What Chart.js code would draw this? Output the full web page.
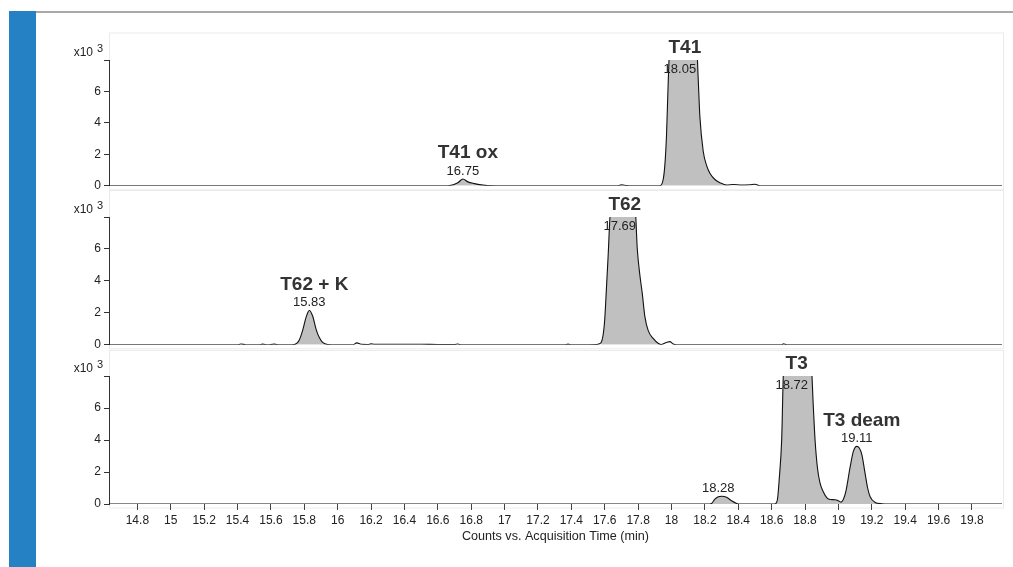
<!DOCTYPE html>
<html>
<head>
<meta charset="utf-8">
<script src="https://cdn.jsdelivr.net/npm/chart.js@4.4.1/dist/chart.umd.min.js"></script>
<style>
html, body { margin: 0; padding: 0; background: #fff; }
#page { position: relative; width: 1013px; height: 567px; overflow: hidden; background: #fff; }
#topline { position: absolute; left: 22px; top: 11px; width: 991px; height: 2px; background: #a8a8a8; }
#bluebar { position: absolute; left: 9px; top: 11px; width: 27px; height: 556px; background: #2680c4; }
canvas { position: absolute; left: 0; }
</style>
</head>
<body>
<div id="page">
    <div id="topline"></div>
    <div id="bluebar"></div>
    <canvas id="c1" width="1013" height="171" style="top:25px"></canvas>
    <canvas id="c2" width="1013" height="165" style="top:190px"></canvas>
    <canvas id="c3" width="1013" height="217" style="top:350px"></canvas>
</div>
<script>
// axis ranges (minutes / counts x10^3)
const xMin = 14.63;
const xMax = 19.98;
const xTicks = [14.8, 15, 15.2, 15.4, 15.6, 15.8, 16, 16.2, 16.4, 16.6, 16.8, 17, 17.2, 17.4, 17.6, 17.8, 18, 18.2, 18.4, 18.6, 18.8, 19, 19.2, 19.4, 19.6, 19.8];
const yTicks = [0, 2, 4, 6, 8];
const xTitle = 'Counts vs. Acquisition Time (min)';

// top trace - T41
const topTime = [14.63, 16.60, 16.67, 16.72, 16.75, 16.78, 16.82, 16.86, 16.90, 16.95, 17.68, 17.70, 17.73, 17.75, 17.93, 17.95, 17.96, 17.97, 17.98, 17.99, 18.05, 18.15, 18.16, 18.17, 18.19, 18.21, 18.23, 18.26, 18.29, 18.33, 18.37, 18.42, 18.47, 18.50, 18.53, 19.98];
const topCounts = [0, 0, 0.02, 0.2, 0.43, 0.25, 0.14, 0.06, 0.01, 0, 0, 0.06, 0.02, 0, 0, 0.4, 1.3, 3.2, 6.5, 9, 10.5, 9, 6.8, 4.4, 2.2, 1.3, 0.8, 0.4, 0.2, 0.05, 0.08, 0.05, 0.07, 0.1, 0, 0];
const topPeaks = [[16.66, 16.90], [17.93, 18.33]];
const topPeakTimes = [16.75, 18.05];
const topPeakNames = ['T41 ox', 'T41'];

// middle trace - T62
const midTime = [14.63, 15.40, 15.42, 15.45, 15.53, 15.55, 15.58, 15.62, 15.65, 15.74, 15.77, 15.79, 15.81, 15.83, 15.85, 15.87, 15.89, 15.91, 15.94, 16.00, 16.09, 16.115, 16.14, 16.18, 16.20, 16.22, 16.30, 16.50, 16.60, 16.70, 16.72, 16.74, 17.36, 17.38, 17.40, 17.55, 17.575, 17.59, 17.60, 17.61, 17.62, 17.635, 17.70, 17.78, 17.795, 17.81, 17.825, 17.84, 17.86, 17.89, 17.92, 17.94, 17.97, 17.99, 18.01, 18.03, 18.66, 18.67, 18.69, 19.98];
const midCounts = [0, 0, 0.05, 0, 0, 0.04, 0, 0.04, 0, 0.02, 0.3, 0.9, 1.7, 2.15, 1.8, 1.0, 0.45, 0.15, 0.02, 0, 0, 0.12, 0.03, 0.02, 0.06, 0.03, 0.03, 0.03, 0.02, 0.02, 0.05, 0, 0, 0.04, 0, 0.02, 0.1, 0.6, 1.6, 3.5, 5.5, 8.5, 10, 9, 6, 4.4, 3.2, 1.8, 0.9, 0.4, 0.1, 0.02, 0.15, 0.2, 0.05, 0, 0, 0.06, 0, 0];
const midPeaks = [[15.73, 15.95], [17.56, 17.945]];
const midPeakTimes = [15.83, 17.69];
const midPeakNames = ['T62 + K', 'T62'];

// bottom trace - T3
const botTime = [14.63, 18.23, 18.24, 18.26, 18.28, 18.30, 18.33, 18.36, 18.39, 18.40, 18.62, 18.635, 18.645, 18.66, 18.672, 18.75, 18.835, 18.85, 18.86, 18.875, 18.89, 18.91, 18.93, 18.95, 18.98, 19.00, 19.015, 19.03, 19.045, 19.07, 19.09, 19.11, 19.125, 19.14, 19.16, 19.175, 19.19, 19.22, 19.26, 19.30, 19.98];
const botCounts = [0, 0, 0.03, 0.3, 0.45, 0.48, 0.42, 0.2, 0.03, 0, 0, 0.3, 1.5, 4, 8.5, 10, 9, 6, 4, 2.2, 1.3, 0.75, 0.4, 0.28, 0.27, 0.2, 0.12, 0.3, 0.8, 2.3, 3.3, 3.6, 3.5, 3.1, 1.9, 1.0, 0.45, 0.1, 0.02, 0, 0];
const botPeaks = [[18.23, 18.40], [18.62, 19.27]];
const botPeakTimes = [18.28, 18.72, 19.11];
const botPeakNames = ['', 'T3', 'T3 deam'];

const FONT = "'Liberation Sans', Arial, sans-serif";
const yMax = 8;

function makePanel(canvasId, time, counts, peaks, peakTimes, peakNames, padTop, showX) {
    const trace = time.map((t, i) => ({ x: t, y: counts[i] }));

    // gray fill only under the integrated peaks
    const fills = peaks.map(w => ({
        data: trace.filter(p => p.x >= w[0] && p.x <= w[1]),
        borderWidth: 0,
        backgroundColor: '#c0c0c0',
        fill: 'origin',
        pointRadius: 0,
        cubicInterpolationMode: 'monotone'
    }));

    const decorations = {
        id: 'decorations',
        beforeDraw(chart) {
            const { ctx, chartArea } = chart;
            ctx.save();
            ctx.strokeStyle = '#ebebeb';
            ctx.lineWidth = 1;
            const top = Math.max(0.5, chartArea.top - 27);
            ctx.strokeRect(chartArea.left + 0.5, top, chartArea.right - chartArea.left + 1, chartArea.bottom + 4 - top);
            ctx.restore();
        },
        afterDraw(chart) {
            const { ctx, chartArea, scales } = chart;
            ctx.save();
            // exponent label
            ctx.fillStyle = '#222';
            ctx.textBaseline = 'middle';
            ctx.textAlign = 'right';
            ctx.font = '12px ' + FONT;
            ctx.fillText('x10', 93, chartArea.top - 7);
            ctx.textAlign = 'left';
            ctx.font = '11px ' + FONT;
            ctx.fillText('3', 97, chartArea.top - 11);

            // peak labels
            ctx.textAlign = 'center';
            peakTimes.forEach((pt, i) => {
                let apex = 0;
                trace.forEach(p => { if (Math.abs(p.x - pt) <= 0.04 && p.y > apex) apex = p.y; });
                const clipped = apex >= yMax;
                const px = scales.x.getPixelForValue(pt);
                const py = scales.y.getPixelForValue(Math.min(apex, yMax));
                const timeY = clipped ? chartArea.top + 9 : py - 8;
                const nameY = clipped ? chartArea.top - 12 : timeY - 18;
                ctx.fillStyle = '#222';
                ctx.font = '13px ' + FONT;
                ctx.fillText(pt.toFixed(2), px, timeY);
                if (peakNames[i]) {
                    ctx.fillStyle = '#333';
                    ctx.font = 'bold 19px ' + FONT;
                    ctx.fillText(peakNames[i], px + 5, nameY);
                }
            });

            if (showX) {
                ctx.fillStyle = '#222';
                ctx.font = '12.6px ' + FONT;
                ctx.fillText(xTitle, (chartArea.left + chartArea.right) / 2, chartArea.bottom + 33);
            }
            ctx.restore();
        }
    };

    return new Chart(document.getElementById(canvasId), {
        type: 'line',
        data: {
            datasets: [{
                data: trace,
                borderColor: '#111',
                borderWidth: 1.1,
                pointRadius: 0,
                fill: false,
                cubicInterpolationMode: 'monotone'
            }].concat(fills)
        },
        options: {
            responsive: false,
            animation: false,
            layout: { padding: { top: padTop, bottom: 0, left: 0, right: 11 } },
            plugins: { legend: { display: false }, tooltip: { enabled: false } },
            scales: {
                x: {
                    type: 'linear',
                    min: xMin,
                    max: xMax,
                    afterBuildTicks: ax => { ax.ticks = xTicks.map(v => ({ value: v })); },
                    // upper panels keep a thin empty axis strip so the panel bottom is exact
                    afterFit: ax => { ax.height = showX ? 63 : 10; },
                    grid: { display: showX, drawOnChartArea: false, tickLength: 6, color: '#444' },
                    border: { display: false },
                    ticks: {
                        display: showX,
                        autoSkip: false,
                        maxRotation: 0,
                        padding: 3,
                        color: '#222',
                        font: { family: FONT, size: 12 },
                        callback: v => String(Number(v.toFixed(1)))
                    }
                },
                y: {
                    min: 0,
                    max: yMax,
                    afterBuildTicks: ax => { ax.ticks = yTicks.map(v => ({ value: v })); },
                    afterFit: ax => { ax.width = 109; },
                    grid: { display: true, drawOnChartArea: false, tickLength: 5, color: '#333' },
                    border: { display: true, color: '#333', width: 1 },
                    ticks: {
                        autoSkip: false,
                        padding: 3,
                        color: '#222',
                        font: { family: FONT, size: 12 },
                        callback: v => v === yMax ? '' : String(v)
                    }
                }
            }
        },
        plugins: [decorations]
    });
}

makePanel('c1', topTime, topCounts, topPeaks, topPeakTimes, topPeakNames, 35, false);
makePanel('c2', midTime, midCounts, midPeaks, midPeakTimes, midPeakNames, 27, false);
makePanel('c3', botTime, botCounts, botPeaks, botPeakTimes, botPeakNames, 26, true);
</script>
</body>
</html>
